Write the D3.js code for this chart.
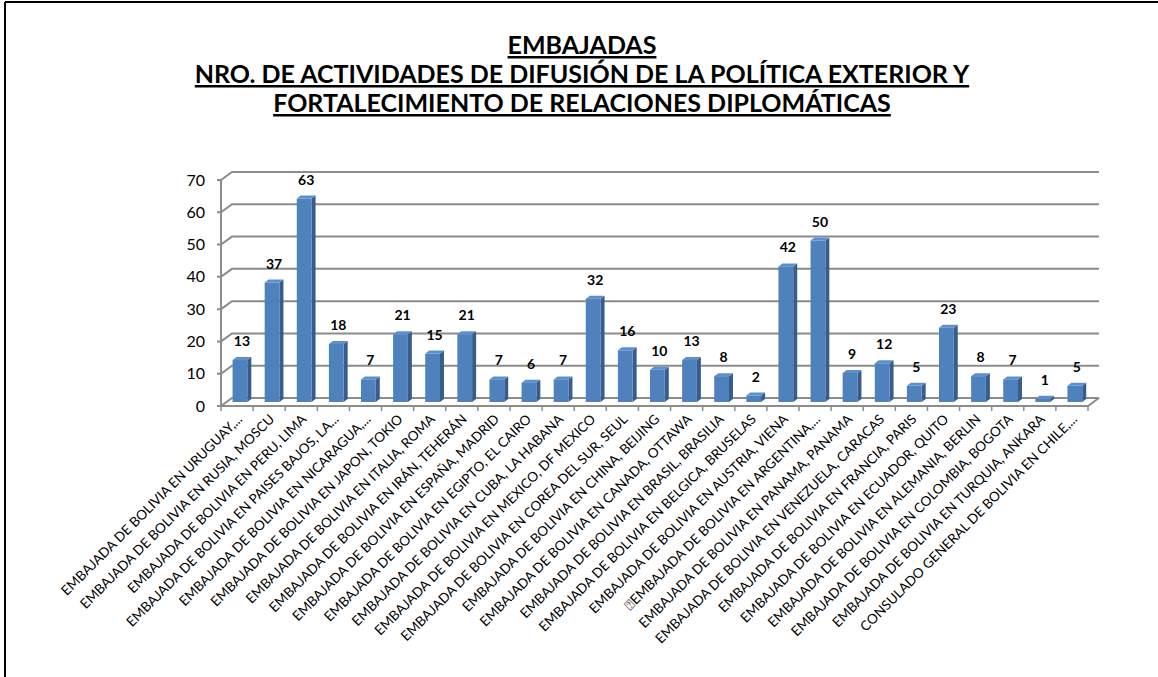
<!DOCTYPE html>
<html>
<head>
<meta charset="utf-8">
<script src="https://cdn.jsdelivr.net/npm/d3@7"></script>
<style>
  body { margin: 0; background: #fff; }
  svg { display: block; }
</style>
</head>
<body>
<div id="chart"></div>
<script>
// datos del gráfico
const titleLines = [
    'EMBAJADAS',
    'NRO. DE ACTIVIDADES DE DIFUSIÓN DE LA POLÍTICA EXTERIOR Y',
    'FORTALECIMIENTO DE RELACIONES DIPLOMÁTICAS'
];
const categories = [
    'EMBAJADA DE BOLIVIA EN URUGUAY,...',
    'EMBAJADA DE BOLIVIA EN RUSIA, MOSCU',
    'EMBAJADA DE BOLIVIA EN PERU, LIMA',
    'EMBAJADA DE BOLIVIA EN PAISES BAJOS, LA...',
    'EMBAJADA DE BOLIVIA EN NICARAGUA,...',
    'EMBAJADA DE BOLIVIA EN JAPON, TOKIO',
    'EMBAJADA DE BOLIVIA EN ITALIA, ROMA',
    'EMBAJADA DE BOLIVIA EN IRÁN, TEHERÁN',
    'EMBAJADA DE BOLIVIA EN ESPAÑA, MADRID',
    'EMBAJADA DE BOLIVIA EN EGIPTO, EL CAIRO',
    'EMBAJADA DE BOLIVIA EN CUBA, LA HABANA',
    'EMBAJADA DE BOLIVIA EN MEXICO, DF MEXICO',
    'EMBAJADA DE BOLIVIA EN COREA DEL SUR, SEUL',
    'EMBAJADA DE BOLIVIA EN CHINA, BEIJING',
    'EMBAJADA DE BOLIVIA EN CANADA, OTTAWA',
    'EMBAJADA DE BOLIVIA EN BRASIL, BRASILIA',
    'EMBAJADA DE BOLIVIA EN BELGICA, BRUSELAS',
    'EMBAJADA DE BOLIVIA EN AUSTRIA, VIENA',
    '\u2370EMBAJADA DE BOLIVIA EN ARGENTINA,...',
    'EMBAJADA DE BOLIVIA EN PANAMA, PANAMA',
    'EMBAJADA DE BOLIVIA EN VENEZUELA, CARACAS',
    'EMBAJADA DE BOLIVIA EN FRANCIA, PARIS',
    'EMBAJADA DE BOLIVIA EN ECUADOR, QUITO',
    'EMBAJADA DE BOLIVIA EN ALEMANIA, BERLIN',
    'EMBAJADA DE BOLIVIA EN COLOMBIA, BOGOTA',
    'EMBAJADA DE BOLIVIA EN TURQUIA, ANKARA',
    'CONSULADO GENERAL DE BOLIVIA EN CHILE,...'
];
const values = [13, 37, 63, 18, 7, 21, 15, 21, 7, 6, 7, 32, 16, 10, 13, 8, 2, 42, 50, 9, 12, 5, 23, 8, 7, 1, 5];
const yTicks = [0, 10, 20, 30, 40, 50, 60, 70];

const width = 1158, height = 677;
const FONT = 'Lato, "Open Sans", sans-serif';
// profundidad 3D de la pared
const depth = { dx: 11, dy: -8 };
const plot = { left: 221, right: 1088, front0: 406 };

const svg = d3.select('#chart').append('svg')
    .attr('width', width)
    .attr('height', height);

// marco
svg.append('line').attr('x1', 5).attr('y1', 2).attr('x2', width).attr('y2', 2)
    .attr('stroke', '#000').attr('stroke-width', 2);
svg.append('line').attr('x1', 5).attr('y1', 2).attr('x2', 5).attr('y2', height)
    .attr('stroke', '#000').attr('stroke-width', 2);

// título
const title = svg.append('g')
    .attr('font-family', FONT)
    .attr('font-weight', 'bold')
    .attr('font-size', 25)
    .attr('text-anchor', 'middle');
titleLines.forEach((t, i) => {
    title.append('text')
        .attr('x', 582)
        .attr('y', 54 + i * 29)
        .attr('text-decoration', 'underline')
        .text(t);
});

const x = d3.scaleBand()
    .domain(categories)
    .range([plot.left, plot.right]);

// escala sobre la pared del fondo
const yBack = d3.scaleLinear()
    .domain([0, 70])
    .range([plot.front0 + depth.dy, plot.front0 + depth.dy - 226]);

const grid = svg.append('g')
    .attr('fill', 'none')
    .attr('stroke', '#8c8c8c')
    .attr('stroke-width', 2);

yTicks.forEach(t => {
    const yb = yBack(t);
    const yf = yb - depth.dy;
    grid.append('path')
        .attr('d', `M${plot.left - 4},${yf}L${plot.left},${yf}L${plot.left + depth.dx},${yb}L${plot.right + depth.dx},${yb}`);
});

// eje vertical frontal
grid.append('line')
    .attr('x1', plot.left).attr('x2', plot.left)
    .attr('y1', yBack(70) - depth.dy).attr('y2', plot.front0);

// piso
grid.append('path')
    .attr('d', `M${plot.left},${plot.front0}L${plot.right},${plot.front0}L${plot.right + depth.dx},${yBack(0)}`);

// marcas del eje x
const xTicks = categories.map(c => x(c)).concat([plot.right]);
grid.selectAll('.xtick')
    .data(xTicks)
    .enter().append('line')
    .attr('x1', d => d).attr('x2', d => d)
    .attr('y1', plot.front0).attr('y2', plot.front0 + 5)
    .attr('stroke-width', 1.5);

// etiquetas eje y
svg.append('g')
    .attr('font-family', FONT)
    .attr('font-size', 16)
    .attr('text-anchor', 'end')
    .attr('fill', '#000')
    .selectAll('text')
    .data(yTicks)
    .enter().append('text')
    .attr('x', 205)
    .attr('y', d => yBack(d) - depth.dy)
    .attr('dy', '0.35em')
    .text(d => d);

// barras 3D
const bw = x.bandwidth() * 0.46;
const bd = { dx: 4, dy: -3 };
const baseY = yBack(0) + 4;
const bars = svg.append('g').selectAll('g')
    .data(values)
    .enter().append('g');

const barX = (d, i) => x(categories[i]) + x.bandwidth() * 0.36;
const barTop = d => yBack(d) + 4;

bars.append('path')
    .attr('fill', '#385d8a')
    .attr('d', (d, i) => {
        const x0 = barX(d, i) + bw, t = barTop(d);
        return `M${x0},${baseY}L${x0},${t}L${x0 + bd.dx},${t + bd.dy}L${x0 + bd.dx},${baseY + bd.dy}Z`;
    });
bars.append('path')
    .attr('fill', '#5b8fd0')
    .attr('d', (d, i) => {
        const x0 = barX(d, i), t = barTop(d);
        return `M${x0},${t}L${x0 + bw},${t}L${x0 + bw + bd.dx},${t + bd.dy}L${x0 + bd.dx},${t + bd.dy}Z`;
    });
bars.append('rect')
    .attr('fill', '#4f81bd')
    .attr('x', (d, i) => barX(d, i))
    .attr('y', d => barTop(d))
    .attr('width', bw)
    .attr('height', d => baseY - barTop(d));

// etiquetas de valor
bars.append('text')
    .attr('font-family', FONT)
    .attr('font-weight', 'bold')
    .attr('font-size', 14)
    .attr('text-anchor', 'middle')
    .attr('x', (d, i) => barX(d, i) + bw / 2 + 2)
    .attr('y', d => barTop(d) - 14)
    .text(d => d);

// etiquetas de categoría
svg.append('g')
    .attr('font-family', FONT)
    .attr('font-size', 13.5)
    .attr('text-anchor', 'end')
    .selectAll('text')
    .data(categories)
    .enter().append('text')
    .attr('transform', d => `translate(${x(d) + x.bandwidth() / 2 + 6},${plot.front0 + 14}) rotate(-45)`)
    .text(d => d);
</script>
</body>
</html>
